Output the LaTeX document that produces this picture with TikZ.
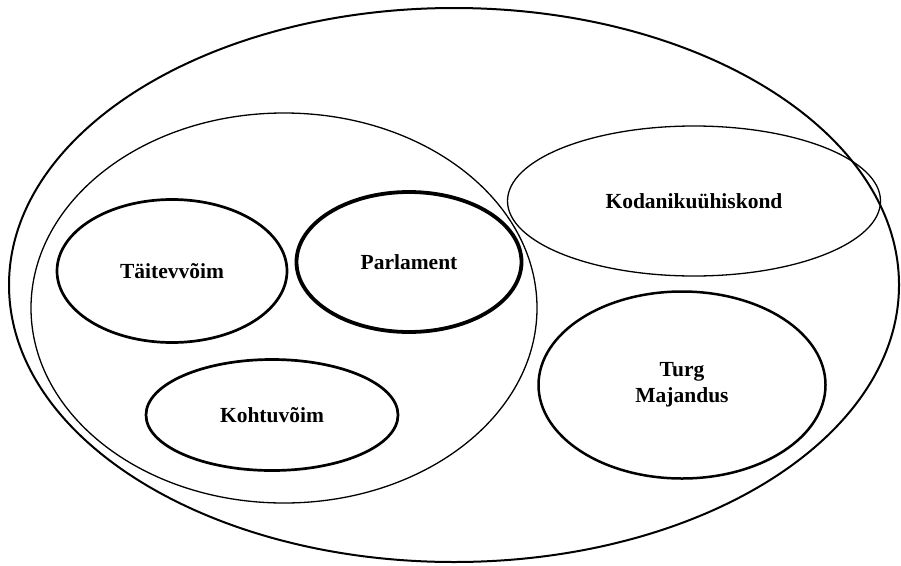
\documentclass[tikz,border=0pt]{standalone}
\usepackage{fontspec}
\setmainfont{Liberation Serif}
\usetikzlibrary{shapes.geometric}

\begin{document}
\begin{tikzpicture}[x=1pt, y=-1pt,
    sphere/.style={draw, ellipse, inner sep=0pt, align=center,
      font=\bfseries\fontsize{21.5}{26}\selectfont},
    thinline/.style={line width=1.3pt},
    branch/.style={line width=2.7pt}]
\useasboundingbox (0,0) rectangle (901,565);

% Society as a whole
        \node[sphere, line width=2pt, minimum width=890pt, minimum height=554pt] (society) at (454,285) {};

% State and its branches
        \node[sphere, thinline, minimum width=506pt, minimum height=390pt] (state) at (284,308) {};
        \node[sphere, branch, minimum width=230pt, minimum height=143pt] (executive) at (172,271) {Täitevvõim};
        \node[sphere, line width=3.8pt, minimum width=225pt, minimum height=140pt] (parliament) at (409,262) {Parlament};
        \node[sphere, branch, minimum width=252pt, minimum height=111pt] (judiciary) at (272,415) {Kohtuvõim};

% Civil society and market
        \node[sphere, thinline, minimum width=373pt, minimum height=150pt] (civil) at (694,201) {Kodanikuühiskond};
        \node[sphere, line width=2.5pt, minimum width=287pt, minimum height=187pt] (market) at (682,385) {Turg\\Majandus};

      \end{tikzpicture}
\end{document}
